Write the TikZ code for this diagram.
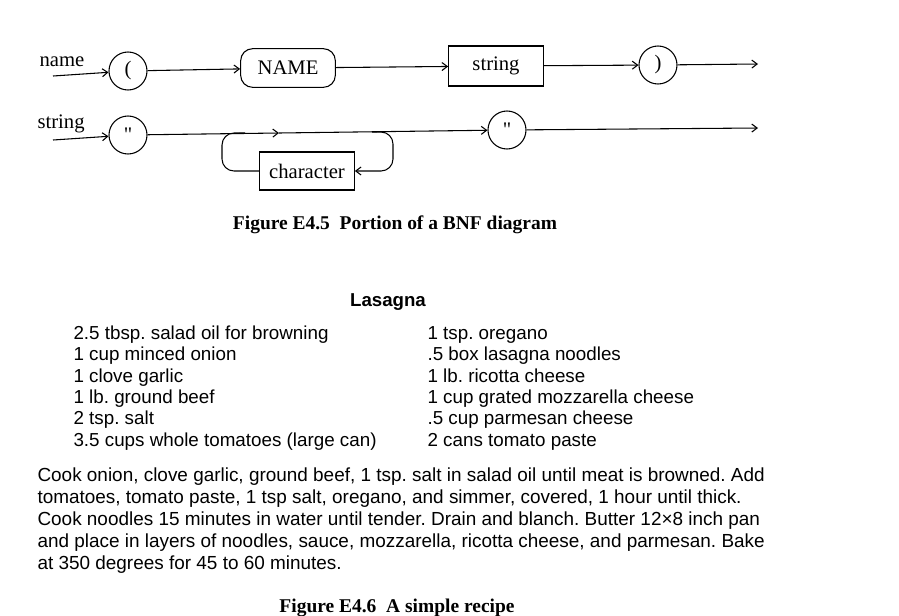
\documentclass[tikz,border=0pt]{standalone}
\usepackage{fontspec}
\setmainfont{Liberation Serif}
\setsansfont{Liberation Sans}
\newfontfamily\quotefont{Liberation Serif}
\usetikzlibrary{arrows,arrows.meta,positioning}
\frenchspacing

\begin{document}
\begin{tikzpicture}[->,>={Straight Barb[length=4pt,width=6pt]},thick,x=0.75pt,y=-0.75pt]
  \tikzstyle{term}=[circle,draw=black,fill=white,minimum size=28.5pt,inner sep=0pt,font=\fontsize{15.5}{18}\selectfont]
  \tikzstyle{token}=[rectangle,rounded corners=9pt,draw=black,fill=white,minimum width=71pt,minimum height=29pt,font=\fontsize{15.5}{18}\selectfont]
  \tikzstyle{place}=[rectangle,draw=black,fill=white,minimum width=71pt,minimum height=30pt,font=\fontsize{15.5}{18}\selectfont]
  \tikzstyle{rule}=[anchor=base west,inner sep=0pt,font=\fontsize{15.5}{18}\selectfont]
  \tikzstyle{caption}=[anchor=base,inner sep=0pt,font=\fontsize{14.6}{17}\selectfont\bfseries]
  \tikzstyle{recipe}=[anchor=base west,inner sep=0pt,align=left,font=\sffamily\fontsize{14.1}{16}\selectfont]

  \fill[white] (0,0) rectangle (899,615);
  \useasboundingbox (0,0) rectangle (899,615);

  % name rule
  \node[rule] (namelbl) at (39,66) {name};
  \coordinate (namein) at (53,76);
  \node[term]  (lp)   at (128,71)  {(};
  \node[token] (NAME) at (288,68)  {NAME};
  \node[place] (str)  at (496,66)  {string};
  \node[term]  (rp)   at (658,65)  {)};
  \coordinate (nameout) at (758,64);

  % string rule
  \node[rule] (strlbl) at (37,128) {string};
  \coordinate (strin) at (53,140);
  \node[term]  (q1)   at (128,135) {\quotefont "};
  \coordinate (mid) at (279,133);
  \node[term]  (q2)   at (507,130) {\quotefont "};
  \coordinate (strout) at (758,128);
  \node[place,minimum height=28.5pt] (char) at (307,171) {character};
  \coordinate (loopR) at (372,132);
  \coordinate (loopL) at (245,133);
  \coordinate (cR) at (393,171);
  \coordinate (cL) at (222,171);

  \path (namein) edge (lp)
        (lp)     edge (NAME)
        (NAME)   edge (str)
        (str)    edge (rp)
        (rp)     edge (nameout)
        (strin)  edge (q1)
        (q1)     edge (mid)
        (mid)    edge (q2)
        (q2)     edge (strout);
  \draw[rounded corners=9pt] (loopR) -| (cR) -- (char.east);
  \draw[-,rounded corners=9pt] (char.west) -- (cL) |- (loopL);

  \node[caption] (cap1) at (395,229) {Figure E4.5\ \ Portion of a BNF diagram};

  % recipe (base anchor sits on the last line)
  \node[recipe,anchor=base,font=\sffamily\bfseries\fontsize{14}{15}\selectfont] (title) at (388,306) {Lasagna};
  \node[recipe] (left) at (73,446) {2.5 tbsp. salad oil for browning\\
    1 cup minced onion\\
    1 clove garlic\\
    1 lb. ground beef\\
    2 tsp. salt\\
    3.5 cups whole tomatoes (large can)};
  \node[recipe] (right) at (427,446) {1 tsp. oregano\\
    .5 box lasagna noodles\\
    1 lb. ricotta cheese\\
    1 cup grated mozzarella cheese\\
    .5 cup parmesan cheese\\
    2 cans tomato paste};
  \node[recipe,font=\sffamily\fontsize{14.2}{16.4}\selectfont] (steps) at (37,569) {Cook onion, clove garlic, ground beef, 1 tsp. salt in salad oil until meat is browned. Add\\
    tomatoes, tomato paste, 1 tsp salt, oregano, and simmer, covered, 1 hour until thick.\\
    Cook noodles 15 minutes in water until tender. Drain and blanch. Butter 12\texttimes 8 inch pan\\
    and place in layers of noodles, sauce, mozzarella, ricotta cheese, and parmesan. Bake\\
    at 350 degrees for 45 to 60 minutes.};

  \node[caption] (cap2) at (397,612) {Figure E4.6\ \ A simple recipe};
\end{tikzpicture}
\end{document}
